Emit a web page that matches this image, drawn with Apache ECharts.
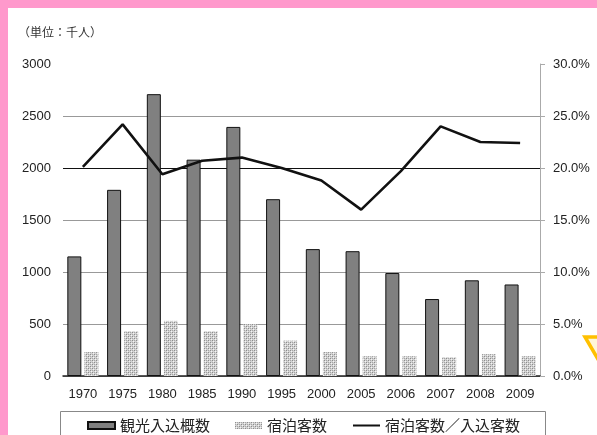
<!DOCTYPE html>
<html>
<head>
<meta charset="utf-8">
<script src="https://cdn.jsdelivr.net/npm/echarts@6/dist/echarts.min.js"></script>
<style>
  html, body { margin: 0; padding: 0; background: #fff; }
  #chart { width: 597px; height: 435px; }
</style>
</head>
<body>
<div id="chart"></div>
<script>
// 年次
const years = ['1970', '1975', '1980', '1985', '1990', '1995', '2000', '2005', '2006', '2007', '2008', '2009'];
// 観光入込概数（千人）
const visitors = [1150, 1790, 2710, 2080, 2395, 1700, 1220, 1200, 990, 740, 920, 880];
// 宿泊客数（千人）
const overnight = [230, 430, 530, 430, 500, 340, 230, 190, 190, 180, 210, 190];
// 宿泊客数／入込客数（％）
const ratio = [20.1, 24.2, 19.4, 20.7, 21.0, 20.0, 18.8, 16.0, 19.7, 24.0, 22.5, 22.4];

const seriesNames = ['観光入込概数', '宿泊客数', '宿泊客数／入込客数'];
const unitLabel = '（単位：千人）';

const numFont = '"Liberation Sans", Arial, sans-serif';
const jpFont = '"Noto Sans CJK JP", "Liberation Sans", sans-serif';

// stippled fill for the overnight-guest bars
function makeStipple() {
  const c = document.createElement('canvas');
  c.width = 4; c.height = 4;
  const ctx = c.getContext('2d');
  ctx.fillStyle = '#d2d2d2';
  ctx.fillRect(0, 0, 4, 4);
  ctx.fillStyle = '#8c8c8c';
  ctx.fillRect(0, 0, 1, 1); ctx.fillRect(2, 2, 1, 1);
  ctx.fillStyle = '#f4f4f4';
  ctx.fillRect(1, 1, 1, 1); ctx.fillRect(3, 3, 1, 1);
  ctx.fillStyle = '#a6a6a6';
  ctx.fillRect(2, 0, 1, 1); ctx.fillRect(0, 2, 1, 1);
  return c;
}
const stipple = { image: makeStipple(), repeat: 'repeat' };

const chart = echarts.init(document.getElementById('chart'), null, { renderer: 'canvas' });

const option = {
  animation: false,
  backgroundColor: '#fff',
  grid: { left: 63, right: 57, top: 64, bottom: 59 },
  legend: {
    left: 82,
    top: 413,
    itemWidth: 27,
    itemHeight: 7,
    itemGap: 25,
    textStyle: { fontFamily: jpFont, fontSize: 15, color: '#222' },
    data: [
      { name: seriesNames[0], icon: 'rect' },
      { name: seriesNames[1], icon: 'rect' },
      { name: seriesNames[2], itemStyle: { opacity: 0 } }
    ]
  },
  xAxis: {
    type: 'category',
    data: years,
    axisLine: { show: true, lineStyle: { color: '#222', width: 1.5 } },
    axisTick: { show: false },
    axisLabel: { fontFamily: numFont, fontSize: 13, color: '#222', margin: 12 }
  },
  yAxis: [
    {
      type: 'value',
      min: 0, max: 3000, interval: 500,
      axisLine: { show: false },
      axisTick: { show: false },
      axisLabel: { fontFamily: numFont, fontSize: 13, color: '#222', margin: 12, formatter: v => String(v) },
      splitLine: {
        show: true,
        showMaxLine: false,
        lineStyle: { color: ['#999', '#999', '#999', '#999', '#111', '#999', '#999'], width: 1 }
      }
    },
    {
      type: 'value',
      min: 0, max: 30, interval: 5,
      position: 'right',
      axisLine: { show: true, lineStyle: { color: '#aaa', width: 1 } },
      axisTick: { show: true, length: 5, lineStyle: { color: '#aaa' } },
      axisLabel: {
        fontFamily: numFont, fontSize: 13, color: '#222', margin: 13,
        formatter: v => v.toFixed(1) + '%'
      },
      splitLine: { show: false }
    }
  ],
  series: [
    {
      name: seriesNames[0],
      type: 'bar',
      data: visitors,
      barWidth: 14,
      barGap: '22%',
      itemStyle: { color: '#808080', borderColor: '#111', borderWidth: 1 }
    },
    {
      name: seriesNames[1],
      type: 'bar',
      data: overnight,
      barWidth: 14,
      itemStyle: { color: stipple }
    },
    {
      name: seriesNames[2],
      type: 'line',
      yAxisIndex: 1,
      data: ratio,
      symbol: 'none',
      lineStyle: { color: '#111', width: 2.6 },
      itemStyle: { color: '#111' },
      z: 5
    }
  ],
  graphic: [
    // pink frame
    { type: 'rect', shape: { x: 0, y: 0, width: 597, height: 8 }, style: { fill: '#ff99cc' }, silent: true },
    { type: 'rect', shape: { x: 0, y: 0, width: 8, height: 435 }, style: { fill: '#ff99cc' }, silent: true },
    // unit note
    {
      type: 'text', left: 18, top: 26, silent: true,
      style: { text: unitLabel, fontFamily: jpFont, fontSize: 12, fill: '#333' }
    },
    // legend frame
    {
      type: 'rect', silent: true, z: -1,
      shape: { x: 60.5, y: 411.5, width: 485, height: 30 },
      style: { fill: 'none', stroke: '#888', lineWidth: 1 }
    },
    // yellow marker at the right edge
    {
      type: 'polyline', silent: true,
      shape: { points: [[599, 337], [585, 337], [599, 361]] },
      style: { stroke: '#ffc000', lineWidth: 3.5, fill: '#fff6d8' }
    }
  ]
};

chart.setOption(option);
</script>
</body>
</html>
